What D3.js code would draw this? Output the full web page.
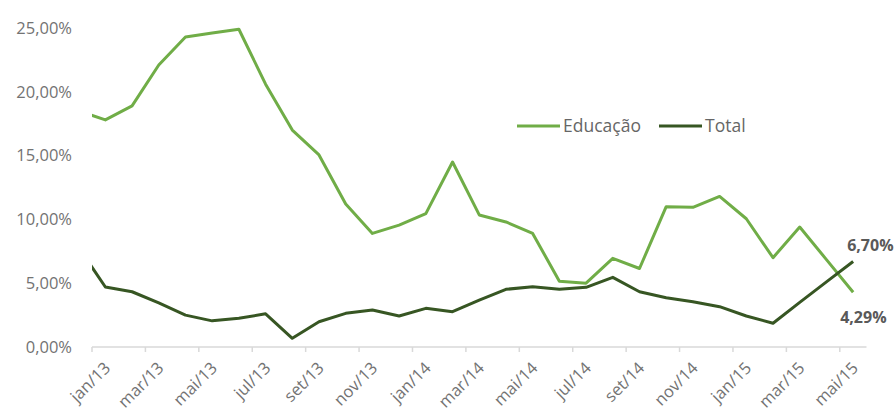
<!DOCTYPE html>
<html>
<head>
<meta charset="utf-8">
<script src="https://cdn.jsdelivr.net/npm/d3@7"></script>
<style>
  body { margin: 0; background: #fff; }
  svg text { font-family: "Open Sans", sans-serif; }
</style>
</head>
<body>
<svg id="chart" width="895" height="412"></svg>
<script>
// first month (dez/12) sits left of the plot and is clipped, like the source
var months = ["dez/12",
  "jan/13","fev/13","mar/13","abr/13","mai/13","jun/13","jul/13","ago/13","set/13","out/13","nov/13","dez/13",
  "jan/14","fev/14","mar/14","abr/14","mai/14","jun/14","jul/14","ago/14","set/14","out/14","nov/14","dez/14",
  "jan/15","fev/15","mar/15","abr/15","mai/15"];
var educacao = [18.5,
  17.8, 18.9, 22.1, 24.3, 24.6, 24.9, 20.6, 17.0, 15.05, 11.2, 8.9, 9.55,
  10.45, 14.5, 10.35, 9.8, 8.9, 5.15, 5.0, 6.95, 6.15, 11.0, 10.95, 11.8,
  10.05, 7.0, 9.4, 6.85, 4.29];
var total = [7.8,
  4.7, 4.33, 3.45, 2.5, 2.05, 2.25, 2.6, 0.68, 1.98, 2.64, 2.9, 2.43,
  3.03, 2.77, 3.68, 4.52, 4.73, 4.52, 4.68, 5.46, 4.33, 3.86, 3.55, 3.16,
  2.43, 1.86, 3.5, 5.1, 6.70];
var yTicks = [0, 5, 10, 15, 20, 25];
var seriesNames = ["Educação", "Total"];
var colors = ["#70ad47", "#375623"];

var svg = d3.select("#chart");

var plotLeft = 92, plotRight = 866.5;
var step = (plotRight - plotLeft) / (months.length - 1);

var x = d3.scaleBand()
    .domain(months)
    .range([plotLeft - step, plotRight])
    .padding(0);

var y = d3.scaleLinear()
    .domain([0, 25])
    .range([347, 28]);

function cx(m) { return x(m) + x.bandwidth() / 2; }

svg.append("clipPath").attr("id", "plotClip")
  .append("rect")
    .attr("x", plotLeft)
    .attr("y", 0)
    .attr("width", plotRight - plotLeft)
    .attr("height", 412);

// y labels (no gridlines in the source)
svg.append("g")
  .selectAll("text")
  .data(yTicks)
  .enter()
  .append("text")
    .attr("x", 72)
    .attr("y", function (d) { return y(d); })
    .attr("dy", "0.35em")
    .attr("text-anchor", "end")
    .style("font-size", "16.5px")
    .style("fill", "#737373")
    .text(function (d) { return d3.format(".2f")(d).replace(".", ",") + "%"; });

// x axis line + ticks every two months
svg.append("line")
    .attr("x1", plotLeft).attr("x2", plotRight)
    .attr("y1", y(0)).attr("y2", y(0))
    .style("stroke", "#d9d9d9")
    .style("stroke-width", "1.5px");

var shown = months.slice(1).filter(function (d, i) { return i % 2 == 0; });

svg.append("g")
  .selectAll("line")
  .data(shown)
  .enter()
  .append("line")
    .attr("x1", function (d) { return x(d); })
    .attr("x2", function (d) { return x(d); })
    .attr("y1", y(0))
    .attr("y2", y(0) + 5)
    .style("stroke", "#d9d9d9")
    .style("stroke-width", "1.5px");

svg.append("g")
  .selectAll("text")
  .data(shown)
  .enter()
  .append("text")
    .attr("transform", function (d) {
      return "translate(" + (cx(d) + 6) + "," + (y(0) + 22) + ") rotate(-45)";
    })
    .attr("text-anchor", "end")
    .style("font-size", "16.5px")
    .style("fill", "#737373")
    .text(function (d) { return d; });

// lines
var line = d3.line()
    .x(function (d, i) { return cx(months[i]); })
    .y(function (d) { return y(d); });

var lines = svg.append("g").attr("clip-path", "url(#plotClip)");

[educacao, total].forEach(function (series, k) {
  lines.append("path")
      .datum(series)
      .attr("d", line)
      .style("fill", "none")
      .style("stroke", colors[k])
      .style("stroke-width", "3px")
      .style("stroke-linejoin", "round");
});

// end labels
var last = months[months.length - 1];
svg.append("text")
    .attr("x", cx(last) - 6)
    .attr("y", y(total[total.length - 1]) - 16)
    .attr("dy", "0.35em")
    .style("font-size", "16px")
    .style("font-weight", "bold")
    .style("fill", "#595959")
    .text(d3.format(".2f")(total[total.length - 1]).replace(".", ",") + "%");

svg.append("text")
    .attr("x", cx(last) - 13)
    .attr("y", y(educacao[educacao.length - 1]) + 25)
    .attr("dy", "0.35em")
    .style("font-size", "16px")
    .style("font-weight", "bold")
    .style("fill", "#595959")
    .text(d3.format(".2f")(educacao[educacao.length - 1]).replace(".", ",") + "%");

// legend
var legendX = [517, 659];
var legend = svg.append("g")
  .selectAll("g")
  .data(seriesNames)
  .enter()
  .append("g")
    .attr("transform", function (d, i) { return "translate(" + legendX[i] + ",126)"; });

legend.append("line")
    .attr("x1", 0).attr("x2", 43)
    .style("stroke", function (d, i) { return colors[i]; })
    .style("stroke-width", "3px");

legend.append("text")
    .attr("x", 46)
    .attr("dy", "0.35em")
    .style("font-size", "17.5px")
    .style("fill", "#666")
    .text(function (d) { return d; });
</script>
</body>
</html>
